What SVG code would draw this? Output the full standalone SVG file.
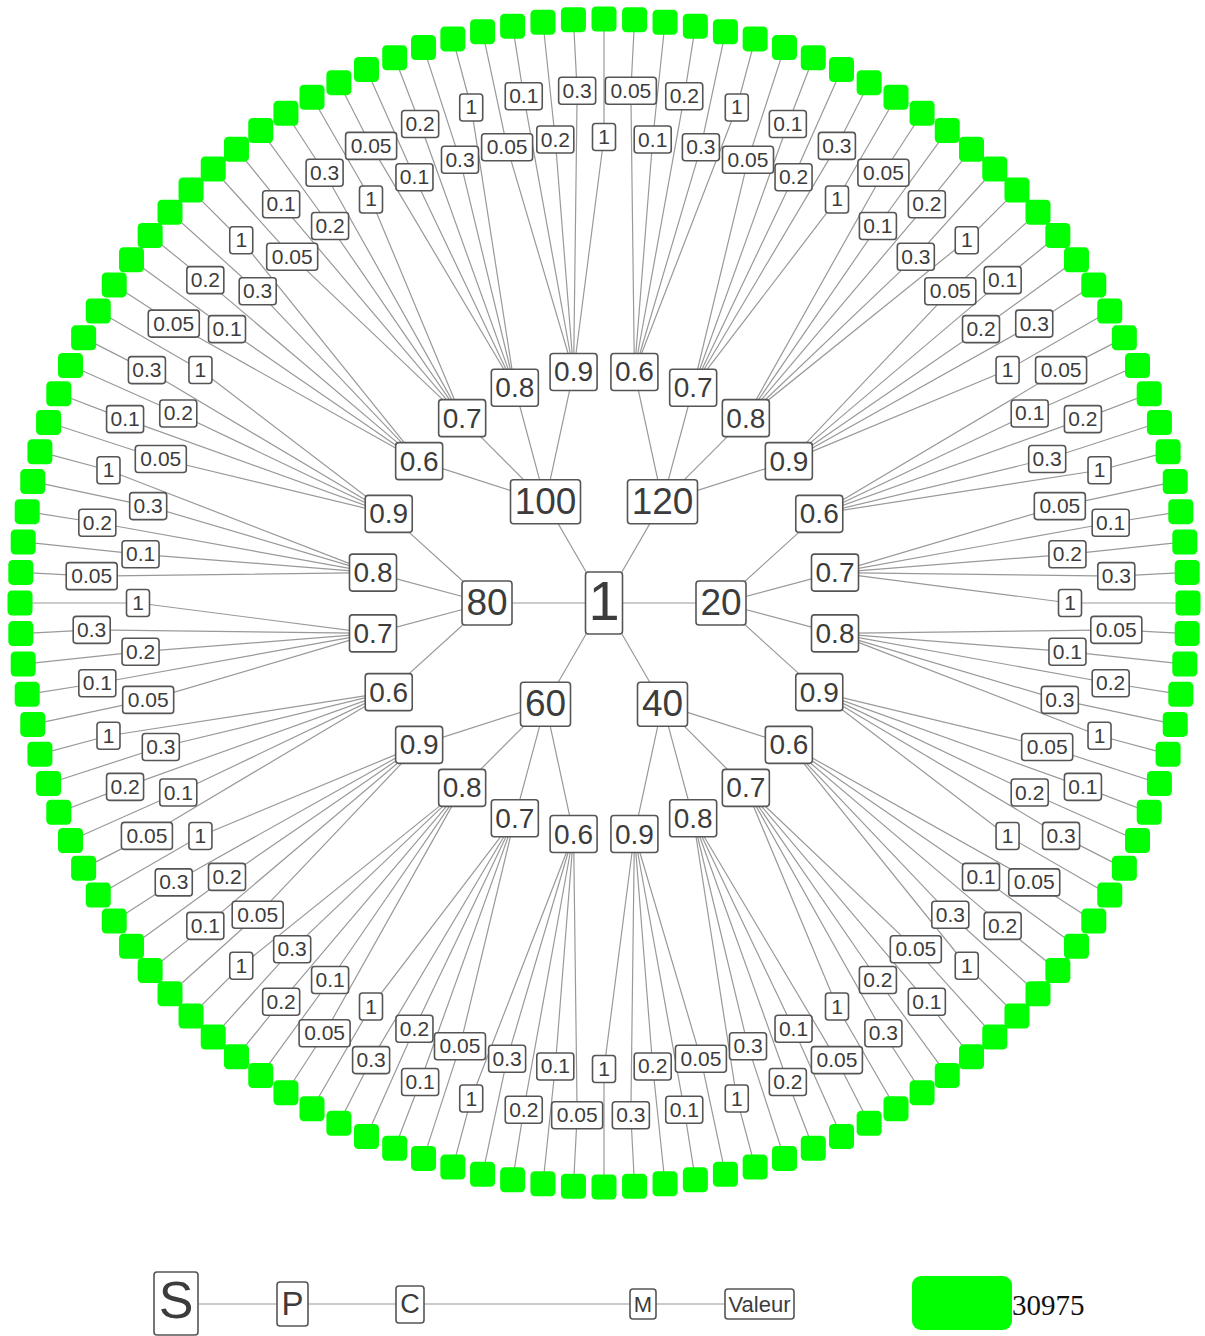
<svg xmlns="http://www.w3.org/2000/svg" width="1205" height="1336" viewBox="0 0 1205 1336">
<style>
.ln path,.ln use,.ln line{stroke:#999;stroke-width:1.2;fill:none}
.nd rect{fill:#fff;stroke:#555;stroke-width:1.6;rx:3px}
.nd text{font-family:"Liberation Sans",Arial,sans-serif;fill:#3c3c3c;text-anchor:middle}
.c0 text{font-size:56px}
.c1 text{font-size:37px}
.c2 text{font-size:28px}
.c3 text{font-size:21px}
.sq{fill:#00ff00;rx:4.5px}
.num{font-family:"Liberation Serif","Times New Roman",serif;font-size:29px;fill:#111;text-anchor:start}
</style>
<defs>
<path id="br" d="M117 0L215.26 -89.17M117 0L231.01 -30.41M117 0L231.01 30.41M117 0L215.26 89.17"/>
<path id="fa" d="M233 0L511.42 -40.25L582.2 -45.82M233 0L465.84 -12.2L583.8 -15.29M233 0L512.82 13.43L583.8 15.29M233 0L464.56 36.56L582.2 45.82M233 0L508.61 66.96L579 76.23"/>
<path id="fb" d="M233 0L464.56 -36.56L582.2 -45.82M233 0L512.82 -13.43L583.8 -15.29M233 0L465.84 12.2L583.8 15.29M233 0L511.42 40.25L582.2 45.82M233 0L462.01 60.83L579 76.23"/>
</defs>
<rect width="1205" height="1336" fill="#fff"/>
<g id="connectors" class="ln">
<line x1="604" y1="603" x2="721" y2="603"/>
<line x1="604" y1="603" x2="662.5" y2="704.3"/>
<line x1="604" y1="603" x2="545.5" y2="704.3"/>
<line x1="604" y1="603" x2="487" y2="603"/>
<line x1="604" y1="603" x2="545.5" y2="501.7"/>
<line x1="604" y1="603" x2="662.5" y2="501.7"/>
<use href="#br" transform="rotate(0 604 603) translate(604 603)"/>
<use href="#br" transform="rotate(60 604 603) translate(604 603)"/>
<use href="#br" transform="rotate(120 604 603) translate(604 603)"/>
<use href="#br" transform="rotate(180 604 603) translate(604 603)"/>
<use href="#br" transform="rotate(240 604 603) translate(604 603)"/>
<use href="#br" transform="rotate(300 604 603) translate(604 603)"/>
<use href="#fa" transform="rotate(337.5 604 603) translate(604 603)"/>
<use href="#fb" transform="rotate(352.5 604 603) translate(604 603)"/>
<use href="#fa" transform="rotate(7.5 604 603) translate(604 603)"/>
<use href="#fb" transform="rotate(22.5 604 603) translate(604 603)"/>
<use href="#fa" transform="rotate(37.5 604 603) translate(604 603)"/>
<use href="#fb" transform="rotate(52.5 604 603) translate(604 603)"/>
<use href="#fa" transform="rotate(67.5 604 603) translate(604 603)"/>
<use href="#fb" transform="rotate(82.5 604 603) translate(604 603)"/>
<use href="#fa" transform="rotate(97.5 604 603) translate(604 603)"/>
<use href="#fb" transform="rotate(112.5 604 603) translate(604 603)"/>
<use href="#fa" transform="rotate(127.5 604 603) translate(604 603)"/>
<use href="#fb" transform="rotate(142.5 604 603) translate(604 603)"/>
<use href="#fa" transform="rotate(157.5 604 603) translate(604 603)"/>
<use href="#fb" transform="rotate(172.5 604 603) translate(604 603)"/>
<use href="#fa" transform="rotate(187.5 604 603) translate(604 603)"/>
<use href="#fb" transform="rotate(202.5 604 603) translate(604 603)"/>
<use href="#fa" transform="rotate(217.5 604 603) translate(604 603)"/>
<use href="#fb" transform="rotate(232.5 604 603) translate(604 603)"/>
<use href="#fa" transform="rotate(247.5 604 603) translate(604 603)"/>
<use href="#fb" transform="rotate(262.5 604 603) translate(604 603)"/>
<use href="#fa" transform="rotate(277.5 604 603) translate(604 603)"/>
<use href="#fb" transform="rotate(292.5 604 603) translate(604 603)"/>
<use href="#fa" transform="rotate(307.5 604 603) translate(604 603)"/>
<use href="#fb" transform="rotate(322.5 604 603) translate(604 603)"/>
<line x1="176" y1="1304" x2="760" y2="1304"/>
</g>
<g id="squares">
<g id="q0" transform="rotate(0 604 603) translate(1188 603) rotate(-0)"><rect class="sq" x="-12.5" y="-12.5" width="25" height="25"/></g>
<g id="q1" transform="rotate(3 604 603) translate(1188 603) rotate(-3)"><rect class="sq" x="-12.5" y="-12.5" width="25" height="25"/></g>
<g id="q2" transform="rotate(6 604 603) translate(1188 603) rotate(-6)"><rect class="sq" x="-12.5" y="-12.5" width="25" height="25"/></g>
<g id="q3" transform="rotate(9 604 603) translate(1188 603) rotate(-9)"><rect class="sq" x="-12.5" y="-12.5" width="25" height="25"/></g>
<g id="q4" transform="rotate(12 604 603) translate(1188 603) rotate(-12)"><rect class="sq" x="-12.5" y="-12.5" width="25" height="25"/></g>
<g id="q5" transform="rotate(15 604 603) translate(1188 603) rotate(-15)"><rect class="sq" x="-12.5" y="-12.5" width="25" height="25"/></g>
<g id="q6" transform="rotate(18 604 603) translate(1188 603) rotate(-18)"><rect class="sq" x="-12.5" y="-12.5" width="25" height="25"/></g>
<g id="q7" transform="rotate(21 604 603) translate(1188 603) rotate(-21)"><rect class="sq" x="-12.5" y="-12.5" width="25" height="25"/></g>
<g id="q8" transform="rotate(24 604 603) translate(1188 603) rotate(-24)"><rect class="sq" x="-12.5" y="-12.5" width="25" height="25"/></g>
<g id="q9" transform="rotate(27 604 603) translate(1188 603) rotate(-27)"><rect class="sq" x="-12.5" y="-12.5" width="25" height="25"/></g>
<g id="q10" transform="rotate(30 604 603) translate(1188 603) rotate(-30)"><rect class="sq" x="-12.5" y="-12.5" width="25" height="25"/></g>
<g id="q11" transform="rotate(33 604 603) translate(1188 603) rotate(-33)"><rect class="sq" x="-12.5" y="-12.5" width="25" height="25"/></g>
<g id="q12" transform="rotate(36 604 603) translate(1188 603) rotate(-36)"><rect class="sq" x="-12.5" y="-12.5" width="25" height="25"/></g>
<g id="q13" transform="rotate(39 604 603) translate(1188 603) rotate(-39)"><rect class="sq" x="-12.5" y="-12.5" width="25" height="25"/></g>
<g id="q14" transform="rotate(42 604 603) translate(1188 603) rotate(-42)"><rect class="sq" x="-12.5" y="-12.5" width="25" height="25"/></g>
<g id="q15" transform="rotate(45 604 603) translate(1188 603) rotate(-45)"><rect class="sq" x="-12.5" y="-12.5" width="25" height="25"/></g>
<g id="q16" transform="rotate(48 604 603) translate(1188 603) rotate(-48)"><rect class="sq" x="-12.5" y="-12.5" width="25" height="25"/></g>
<g id="q17" transform="rotate(51 604 603) translate(1188 603) rotate(-51)"><rect class="sq" x="-12.5" y="-12.5" width="25" height="25"/></g>
<g id="q18" transform="rotate(54 604 603) translate(1188 603) rotate(-54)"><rect class="sq" x="-12.5" y="-12.5" width="25" height="25"/></g>
<g id="q19" transform="rotate(57 604 603) translate(1188 603) rotate(-57)"><rect class="sq" x="-12.5" y="-12.5" width="25" height="25"/></g>
<g id="q20" transform="rotate(60 604 603) translate(1188 603) rotate(-60)"><rect class="sq" x="-12.5" y="-12.5" width="25" height="25"/></g>
<g id="q21" transform="rotate(63 604 603) translate(1188 603) rotate(-63)"><rect class="sq" x="-12.5" y="-12.5" width="25" height="25"/></g>
<g id="q22" transform="rotate(66 604 603) translate(1188 603) rotate(-66)"><rect class="sq" x="-12.5" y="-12.5" width="25" height="25"/></g>
<g id="q23" transform="rotate(69 604 603) translate(1188 603) rotate(-69)"><rect class="sq" x="-12.5" y="-12.5" width="25" height="25"/></g>
<g id="q24" transform="rotate(72 604 603) translate(1188 603) rotate(-72)"><rect class="sq" x="-12.5" y="-12.5" width="25" height="25"/></g>
<g id="q25" transform="rotate(75 604 603) translate(1188 603) rotate(-75)"><rect class="sq" x="-12.5" y="-12.5" width="25" height="25"/></g>
<g id="q26" transform="rotate(78 604 603) translate(1188 603) rotate(-78)"><rect class="sq" x="-12.5" y="-12.5" width="25" height="25"/></g>
<g id="q27" transform="rotate(81 604 603) translate(1188 603) rotate(-81)"><rect class="sq" x="-12.5" y="-12.5" width="25" height="25"/></g>
<g id="q28" transform="rotate(84 604 603) translate(1188 603) rotate(-84)"><rect class="sq" x="-12.5" y="-12.5" width="25" height="25"/></g>
<g id="q29" transform="rotate(87 604 603) translate(1188 603) rotate(-87)"><rect class="sq" x="-12.5" y="-12.5" width="25" height="25"/></g>
<g id="q30" transform="rotate(90 604 603) translate(1188 603) rotate(-90)"><rect class="sq" x="-12.5" y="-12.5" width="25" height="25"/></g>
<g id="q31" transform="rotate(93 604 603) translate(1188 603) rotate(-93)"><rect class="sq" x="-12.5" y="-12.5" width="25" height="25"/></g>
<g id="q32" transform="rotate(96 604 603) translate(1188 603) rotate(-96)"><rect class="sq" x="-12.5" y="-12.5" width="25" height="25"/></g>
<g id="q33" transform="rotate(99 604 603) translate(1188 603) rotate(-99)"><rect class="sq" x="-12.5" y="-12.5" width="25" height="25"/></g>
<g id="q34" transform="rotate(102 604 603) translate(1188 603) rotate(-102)"><rect class="sq" x="-12.5" y="-12.5" width="25" height="25"/></g>
<g id="q35" transform="rotate(105 604 603) translate(1188 603) rotate(-105)"><rect class="sq" x="-12.5" y="-12.5" width="25" height="25"/></g>
<g id="q36" transform="rotate(108 604 603) translate(1188 603) rotate(-108)"><rect class="sq" x="-12.5" y="-12.5" width="25" height="25"/></g>
<g id="q37" transform="rotate(111 604 603) translate(1188 603) rotate(-111)"><rect class="sq" x="-12.5" y="-12.5" width="25" height="25"/></g>
<g id="q38" transform="rotate(114 604 603) translate(1188 603) rotate(-114)"><rect class="sq" x="-12.5" y="-12.5" width="25" height="25"/></g>
<g id="q39" transform="rotate(117 604 603) translate(1188 603) rotate(-117)"><rect class="sq" x="-12.5" y="-12.5" width="25" height="25"/></g>
<g id="q40" transform="rotate(120 604 603) translate(1188 603) rotate(-120)"><rect class="sq" x="-12.5" y="-12.5" width="25" height="25"/></g>
<g id="q41" transform="rotate(123 604 603) translate(1188 603) rotate(-123)"><rect class="sq" x="-12.5" y="-12.5" width="25" height="25"/></g>
<g id="q42" transform="rotate(126 604 603) translate(1188 603) rotate(-126)"><rect class="sq" x="-12.5" y="-12.5" width="25" height="25"/></g>
<g id="q43" transform="rotate(129 604 603) translate(1188 603) rotate(-129)"><rect class="sq" x="-12.5" y="-12.5" width="25" height="25"/></g>
<g id="q44" transform="rotate(132 604 603) translate(1188 603) rotate(-132)"><rect class="sq" x="-12.5" y="-12.5" width="25" height="25"/></g>
<g id="q45" transform="rotate(135 604 603) translate(1188 603) rotate(-135)"><rect class="sq" x="-12.5" y="-12.5" width="25" height="25"/></g>
<g id="q46" transform="rotate(138 604 603) translate(1188 603) rotate(-138)"><rect class="sq" x="-12.5" y="-12.5" width="25" height="25"/></g>
<g id="q47" transform="rotate(141 604 603) translate(1188 603) rotate(-141)"><rect class="sq" x="-12.5" y="-12.5" width="25" height="25"/></g>
<g id="q48" transform="rotate(144 604 603) translate(1188 603) rotate(-144)"><rect class="sq" x="-12.5" y="-12.5" width="25" height="25"/></g>
<g id="q49" transform="rotate(147 604 603) translate(1188 603) rotate(-147)"><rect class="sq" x="-12.5" y="-12.5" width="25" height="25"/></g>
<g id="q50" transform="rotate(150 604 603) translate(1188 603) rotate(-150)"><rect class="sq" x="-12.5" y="-12.5" width="25" height="25"/></g>
<g id="q51" transform="rotate(153 604 603) translate(1188 603) rotate(-153)"><rect class="sq" x="-12.5" y="-12.5" width="25" height="25"/></g>
<g id="q52" transform="rotate(156 604 603) translate(1188 603) rotate(-156)"><rect class="sq" x="-12.5" y="-12.5" width="25" height="25"/></g>
<g id="q53" transform="rotate(159 604 603) translate(1188 603) rotate(-159)"><rect class="sq" x="-12.5" y="-12.5" width="25" height="25"/></g>
<g id="q54" transform="rotate(162 604 603) translate(1188 603) rotate(-162)"><rect class="sq" x="-12.5" y="-12.5" width="25" height="25"/></g>
<g id="q55" transform="rotate(165 604 603) translate(1188 603) rotate(-165)"><rect class="sq" x="-12.5" y="-12.5" width="25" height="25"/></g>
<g id="q56" transform="rotate(168 604 603) translate(1188 603) rotate(-168)"><rect class="sq" x="-12.5" y="-12.5" width="25" height="25"/></g>
<g id="q57" transform="rotate(171 604 603) translate(1188 603) rotate(-171)"><rect class="sq" x="-12.5" y="-12.5" width="25" height="25"/></g>
<g id="q58" transform="rotate(174 604 603) translate(1188 603) rotate(-174)"><rect class="sq" x="-12.5" y="-12.5" width="25" height="25"/></g>
<g id="q59" transform="rotate(177 604 603) translate(1188 603) rotate(-177)"><rect class="sq" x="-12.5" y="-12.5" width="25" height="25"/></g>
<g id="q60" transform="rotate(180 604 603) translate(1188 603) rotate(-180)"><rect class="sq" x="-12.5" y="-12.5" width="25" height="25"/></g>
<g id="q61" transform="rotate(183 604 603) translate(1188 603) rotate(-183)"><rect class="sq" x="-12.5" y="-12.5" width="25" height="25"/></g>
<g id="q62" transform="rotate(186 604 603) translate(1188 603) rotate(-186)"><rect class="sq" x="-12.5" y="-12.5" width="25" height="25"/></g>
<g id="q63" transform="rotate(189 604 603) translate(1188 603) rotate(-189)"><rect class="sq" x="-12.5" y="-12.5" width="25" height="25"/></g>
<g id="q64" transform="rotate(192 604 603) translate(1188 603) rotate(-192)"><rect class="sq" x="-12.5" y="-12.5" width="25" height="25"/></g>
<g id="q65" transform="rotate(195 604 603) translate(1188 603) rotate(-195)"><rect class="sq" x="-12.5" y="-12.5" width="25" height="25"/></g>
<g id="q66" transform="rotate(198 604 603) translate(1188 603) rotate(-198)"><rect class="sq" x="-12.5" y="-12.5" width="25" height="25"/></g>
<g id="q67" transform="rotate(201 604 603) translate(1188 603) rotate(-201)"><rect class="sq" x="-12.5" y="-12.5" width="25" height="25"/></g>
<g id="q68" transform="rotate(204 604 603) translate(1188 603) rotate(-204)"><rect class="sq" x="-12.5" y="-12.5" width="25" height="25"/></g>
<g id="q69" transform="rotate(207 604 603) translate(1188 603) rotate(-207)"><rect class="sq" x="-12.5" y="-12.5" width="25" height="25"/></g>
<g id="q70" transform="rotate(210 604 603) translate(1188 603) rotate(-210)"><rect class="sq" x="-12.5" y="-12.5" width="25" height="25"/></g>
<g id="q71" transform="rotate(213 604 603) translate(1188 603) rotate(-213)"><rect class="sq" x="-12.5" y="-12.5" width="25" height="25"/></g>
<g id="q72" transform="rotate(216 604 603) translate(1188 603) rotate(-216)"><rect class="sq" x="-12.5" y="-12.5" width="25" height="25"/></g>
<g id="q73" transform="rotate(219 604 603) translate(1188 603) rotate(-219)"><rect class="sq" x="-12.5" y="-12.5" width="25" height="25"/></g>
<g id="q74" transform="rotate(222 604 603) translate(1188 603) rotate(-222)"><rect class="sq" x="-12.5" y="-12.5" width="25" height="25"/></g>
<g id="q75" transform="rotate(225 604 603) translate(1188 603) rotate(-225)"><rect class="sq" x="-12.5" y="-12.5" width="25" height="25"/></g>
<g id="q76" transform="rotate(228 604 603) translate(1188 603) rotate(-228)"><rect class="sq" x="-12.5" y="-12.5" width="25" height="25"/></g>
<g id="q77" transform="rotate(231 604 603) translate(1188 603) rotate(-231)"><rect class="sq" x="-12.5" y="-12.5" width="25" height="25"/></g>
<g id="q78" transform="rotate(234 604 603) translate(1188 603) rotate(-234)"><rect class="sq" x="-12.5" y="-12.5" width="25" height="25"/></g>
<g id="q79" transform="rotate(237 604 603) translate(1188 603) rotate(-237)"><rect class="sq" x="-12.5" y="-12.5" width="25" height="25"/></g>
<g id="q80" transform="rotate(240 604 603) translate(1188 603) rotate(-240)"><rect class="sq" x="-12.5" y="-12.5" width="25" height="25"/></g>
<g id="q81" transform="rotate(243 604 603) translate(1188 603) rotate(-243)"><rect class="sq" x="-12.5" y="-12.5" width="25" height="25"/></g>
<g id="q82" transform="rotate(246 604 603) translate(1188 603) rotate(-246)"><rect class="sq" x="-12.5" y="-12.5" width="25" height="25"/></g>
<g id="q83" transform="rotate(249 604 603) translate(1188 603) rotate(-249)"><rect class="sq" x="-12.5" y="-12.5" width="25" height="25"/></g>
<g id="q84" transform="rotate(252 604 603) translate(1188 603) rotate(-252)"><rect class="sq" x="-12.5" y="-12.5" width="25" height="25"/></g>
<g id="q85" transform="rotate(255 604 603) translate(1188 603) rotate(-255)"><rect class="sq" x="-12.5" y="-12.5" width="25" height="25"/></g>
<g id="q86" transform="rotate(258 604 603) translate(1188 603) rotate(-258)"><rect class="sq" x="-12.5" y="-12.5" width="25" height="25"/></g>
<g id="q87" transform="rotate(261 604 603) translate(1188 603) rotate(-261)"><rect class="sq" x="-12.5" y="-12.5" width="25" height="25"/></g>
<g id="q88" transform="rotate(264 604 603) translate(1188 603) rotate(-264)"><rect class="sq" x="-12.5" y="-12.5" width="25" height="25"/></g>
<g id="q89" transform="rotate(267 604 603) translate(1188 603) rotate(-267)"><rect class="sq" x="-12.5" y="-12.5" width="25" height="25"/></g>
<g id="q90" transform="rotate(270 604 603) translate(1188 603) rotate(-270)"><rect class="sq" x="-12.5" y="-12.5" width="25" height="25"/></g>
<g id="q91" transform="rotate(273 604 603) translate(1188 603) rotate(-273)"><rect class="sq" x="-12.5" y="-12.5" width="25" height="25"/></g>
<g id="q92" transform="rotate(276 604 603) translate(1188 603) rotate(-276)"><rect class="sq" x="-12.5" y="-12.5" width="25" height="25"/></g>
<g id="q93" transform="rotate(279 604 603) translate(1188 603) rotate(-279)"><rect class="sq" x="-12.5" y="-12.5" width="25" height="25"/></g>
<g id="q94" transform="rotate(282 604 603) translate(1188 603) rotate(-282)"><rect class="sq" x="-12.5" y="-12.5" width="25" height="25"/></g>
<g id="q95" transform="rotate(285 604 603) translate(1188 603) rotate(-285)"><rect class="sq" x="-12.5" y="-12.5" width="25" height="25"/></g>
<g id="q96" transform="rotate(288 604 603) translate(1188 603) rotate(-288)"><rect class="sq" x="-12.5" y="-12.5" width="25" height="25"/></g>
<g id="q97" transform="rotate(291 604 603) translate(1188 603) rotate(-291)"><rect class="sq" x="-12.5" y="-12.5" width="25" height="25"/></g>
<g id="q98" transform="rotate(294 604 603) translate(1188 603) rotate(-294)"><rect class="sq" x="-12.5" y="-12.5" width="25" height="25"/></g>
<g id="q99" transform="rotate(297 604 603) translate(1188 603) rotate(-297)"><rect class="sq" x="-12.5" y="-12.5" width="25" height="25"/></g>
<g id="q100" transform="rotate(300 604 603) translate(1188 603) rotate(-300)"><rect class="sq" x="-12.5" y="-12.5" width="25" height="25"/></g>
<g id="q101" transform="rotate(303 604 603) translate(1188 603) rotate(-303)"><rect class="sq" x="-12.5" y="-12.5" width="25" height="25"/></g>
<g id="q102" transform="rotate(306 604 603) translate(1188 603) rotate(-306)"><rect class="sq" x="-12.5" y="-12.5" width="25" height="25"/></g>
<g id="q103" transform="rotate(309 604 603) translate(1188 603) rotate(-309)"><rect class="sq" x="-12.5" y="-12.5" width="25" height="25"/></g>
<g id="q104" transform="rotate(312 604 603) translate(1188 603) rotate(-312)"><rect class="sq" x="-12.5" y="-12.5" width="25" height="25"/></g>
<g id="q105" transform="rotate(315 604 603) translate(1188 603) rotate(-315)"><rect class="sq" x="-12.5" y="-12.5" width="25" height="25"/></g>
<g id="q106" transform="rotate(318 604 603) translate(1188 603) rotate(-318)"><rect class="sq" x="-12.5" y="-12.5" width="25" height="25"/></g>
<g id="q107" transform="rotate(321 604 603) translate(1188 603) rotate(-321)"><rect class="sq" x="-12.5" y="-12.5" width="25" height="25"/></g>
<g id="q108" transform="rotate(324 604 603) translate(1188 603) rotate(-324)"><rect class="sq" x="-12.5" y="-12.5" width="25" height="25"/></g>
<g id="q109" transform="rotate(327 604 603) translate(1188 603) rotate(-327)"><rect class="sq" x="-12.5" y="-12.5" width="25" height="25"/></g>
<g id="q110" transform="rotate(330 604 603) translate(1188 603) rotate(-330)"><rect class="sq" x="-12.5" y="-12.5" width="25" height="25"/></g>
<g id="q111" transform="rotate(333 604 603) translate(1188 603) rotate(-333)"><rect class="sq" x="-12.5" y="-12.5" width="25" height="25"/></g>
<g id="q112" transform="rotate(336 604 603) translate(1188 603) rotate(-336)"><rect class="sq" x="-12.5" y="-12.5" width="25" height="25"/></g>
<g id="q113" transform="rotate(339 604 603) translate(1188 603) rotate(-339)"><rect class="sq" x="-12.5" y="-12.5" width="25" height="25"/></g>
<g id="q114" transform="rotate(342 604 603) translate(1188 603) rotate(-342)"><rect class="sq" x="-12.5" y="-12.5" width="25" height="25"/></g>
<g id="q115" transform="rotate(345 604 603) translate(1188 603) rotate(-345)"><rect class="sq" x="-12.5" y="-12.5" width="25" height="25"/></g>
<g id="q116" transform="rotate(348 604 603) translate(1188 603) rotate(-348)"><rect class="sq" x="-12.5" y="-12.5" width="25" height="25"/></g>
<g id="q117" transform="rotate(351 604 603) translate(1188 603) rotate(-351)"><rect class="sq" x="-12.5" y="-12.5" width="25" height="25"/></g>
<g id="q118" transform="rotate(354 604 603) translate(1188 603) rotate(-354)"><rect class="sq" x="-12.5" y="-12.5" width="25" height="25"/></g>
<g id="q119" transform="rotate(357 604 603) translate(1188 603) rotate(-357)"><rect class="sq" x="-12.5" y="-12.5" width="25" height="25"/></g>
</g>
<g class="nd c3">
<g id="v0" transform="rotate(0 604 603) translate(1070 603) rotate(-0)"><rect x="-11.5" y="-13.5" width="23" height="27"/><text y="7">1</text></g>
<g id="v1" transform="rotate(3 604 603) translate(1117 603) rotate(-3)"><rect x="-25.5" y="-13.5" width="51" height="27"/><text y="7">0.05</text></g>
<g id="v2" transform="rotate(6 604 603) translate(1070 603) rotate(-6)"><rect x="-18.5" y="-13.5" width="37" height="27"/><text y="7">0.1</text></g>
<g id="v3" transform="rotate(9 604 603) translate(1117 603) rotate(-9)"><rect x="-18.5" y="-13.5" width="37" height="27"/><text y="7">0.2</text></g>
<g id="v4" transform="rotate(12 604 603) translate(1070 603) rotate(-12)"><rect x="-18.5" y="-13.5" width="37" height="27"/><text y="7">0.3</text></g>
<g id="v5" transform="rotate(15 604 603) translate(1117 603) rotate(-15)"><rect x="-11.5" y="-13.5" width="23" height="27"/><text y="7">1</text></g>
<g id="v6" transform="rotate(18 604 603) translate(1070 603) rotate(-18)"><rect x="-25.5" y="-13.5" width="51" height="27"/><text y="7">0.05</text></g>
<g id="v7" transform="rotate(21 604 603) translate(1117 603) rotate(-21)"><rect x="-18.5" y="-13.5" width="37" height="27"/><text y="7">0.1</text></g>
<g id="v8" transform="rotate(24 604 603) translate(1070 603) rotate(-24)"><rect x="-18.5" y="-13.5" width="37" height="27"/><text y="7">0.2</text></g>
<g id="v9" transform="rotate(27 604 603) translate(1117 603) rotate(-27)"><rect x="-18.5" y="-13.5" width="37" height="27"/><text y="7">0.3</text></g>
<g id="v10" transform="rotate(30 604 603) translate(1070 603) rotate(-30)"><rect x="-11.5" y="-13.5" width="23" height="27"/><text y="7">1</text></g>
<g id="v11" transform="rotate(33 604 603) translate(1117 603) rotate(-33)"><rect x="-25.5" y="-13.5" width="51" height="27"/><text y="7">0.05</text></g>
<g id="v12" transform="rotate(36 604 603) translate(1070 603) rotate(-36)"><rect x="-18.5" y="-13.5" width="37" height="27"/><text y="7">0.1</text></g>
<g id="v13" transform="rotate(39 604 603) translate(1117 603) rotate(-39)"><rect x="-18.5" y="-13.5" width="37" height="27"/><text y="7">0.2</text></g>
<g id="v14" transform="rotate(42 604 603) translate(1070 603) rotate(-42)"><rect x="-18.5" y="-13.5" width="37" height="27"/><text y="7">0.3</text></g>
<g id="v15" transform="rotate(45 604 603) translate(1117 603) rotate(-45)"><rect x="-11.5" y="-13.5" width="23" height="27"/><text y="7">1</text></g>
<g id="v16" transform="rotate(48 604 603) translate(1070 603) rotate(-48)"><rect x="-25.5" y="-13.5" width="51" height="27"/><text y="7">0.05</text></g>
<g id="v17" transform="rotate(51 604 603) translate(1117 603) rotate(-51)"><rect x="-18.5" y="-13.5" width="37" height="27"/><text y="7">0.1</text></g>
<g id="v18" transform="rotate(54 604 603) translate(1070 603) rotate(-54)"><rect x="-18.5" y="-13.5" width="37" height="27"/><text y="7">0.2</text></g>
<g id="v19" transform="rotate(57 604 603) translate(1117 603) rotate(-57)"><rect x="-18.5" y="-13.5" width="37" height="27"/><text y="7">0.3</text></g>
<g id="v20" transform="rotate(60 604 603) translate(1070 603) rotate(-60)"><rect x="-11.5" y="-13.5" width="23" height="27"/><text y="7">1</text></g>
<g id="v21" transform="rotate(63 604 603) translate(1117 603) rotate(-63)"><rect x="-25.5" y="-13.5" width="51" height="27"/><text y="7">0.05</text></g>
<g id="v22" transform="rotate(66 604 603) translate(1070 603) rotate(-66)"><rect x="-18.5" y="-13.5" width="37" height="27"/><text y="7">0.1</text></g>
<g id="v23" transform="rotate(69 604 603) translate(1117 603) rotate(-69)"><rect x="-18.5" y="-13.5" width="37" height="27"/><text y="7">0.2</text></g>
<g id="v24" transform="rotate(72 604 603) translate(1070 603) rotate(-72)"><rect x="-18.5" y="-13.5" width="37" height="27"/><text y="7">0.3</text></g>
<g id="v25" transform="rotate(75 604 603) translate(1117 603) rotate(-75)"><rect x="-11.5" y="-13.5" width="23" height="27"/><text y="7">1</text></g>
<g id="v26" transform="rotate(78 604 603) translate(1070 603) rotate(-78)"><rect x="-25.5" y="-13.5" width="51" height="27"/><text y="7">0.05</text></g>
<g id="v27" transform="rotate(81 604 603) translate(1117 603) rotate(-81)"><rect x="-18.5" y="-13.5" width="37" height="27"/><text y="7">0.1</text></g>
<g id="v28" transform="rotate(84 604 603) translate(1070 603) rotate(-84)"><rect x="-18.5" y="-13.5" width="37" height="27"/><text y="7">0.2</text></g>
<g id="v29" transform="rotate(87 604 603) translate(1117 603) rotate(-87)"><rect x="-18.5" y="-13.5" width="37" height="27"/><text y="7">0.3</text></g>
<g id="v30" transform="rotate(90 604 603) translate(1070 603) rotate(-90)"><rect x="-11.5" y="-13.5" width="23" height="27"/><text y="7">1</text></g>
<g id="v31" transform="rotate(93 604 603) translate(1117 603) rotate(-93)"><rect x="-25.5" y="-13.5" width="51" height="27"/><text y="7">0.05</text></g>
<g id="v32" transform="rotate(96 604 603) translate(1070 603) rotate(-96)"><rect x="-18.5" y="-13.5" width="37" height="27"/><text y="7">0.1</text></g>
<g id="v33" transform="rotate(99 604 603) translate(1117 603) rotate(-99)"><rect x="-18.5" y="-13.5" width="37" height="27"/><text y="7">0.2</text></g>
<g id="v34" transform="rotate(102 604 603) translate(1070 603) rotate(-102)"><rect x="-18.5" y="-13.5" width="37" height="27"/><text y="7">0.3</text></g>
<g id="v35" transform="rotate(105 604 603) translate(1117 603) rotate(-105)"><rect x="-11.5" y="-13.5" width="23" height="27"/><text y="7">1</text></g>
<g id="v36" transform="rotate(108 604 603) translate(1070 603) rotate(-108)"><rect x="-25.5" y="-13.5" width="51" height="27"/><text y="7">0.05</text></g>
<g id="v37" transform="rotate(111 604 603) translate(1117 603) rotate(-111)"><rect x="-18.5" y="-13.5" width="37" height="27"/><text y="7">0.1</text></g>
<g id="v38" transform="rotate(114 604 603) translate(1070 603) rotate(-114)"><rect x="-18.5" y="-13.5" width="37" height="27"/><text y="7">0.2</text></g>
<g id="v39" transform="rotate(117 604 603) translate(1117 603) rotate(-117)"><rect x="-18.5" y="-13.5" width="37" height="27"/><text y="7">0.3</text></g>
<g id="v40" transform="rotate(120 604 603) translate(1070 603) rotate(-120)"><rect x="-11.5" y="-13.5" width="23" height="27"/><text y="7">1</text></g>
<g id="v41" transform="rotate(123 604 603) translate(1117 603) rotate(-123)"><rect x="-25.5" y="-13.5" width="51" height="27"/><text y="7">0.05</text></g>
<g id="v42" transform="rotate(126 604 603) translate(1070 603) rotate(-126)"><rect x="-18.5" y="-13.5" width="37" height="27"/><text y="7">0.1</text></g>
<g id="v43" transform="rotate(129 604 603) translate(1117 603) rotate(-129)"><rect x="-18.5" y="-13.5" width="37" height="27"/><text y="7">0.2</text></g>
<g id="v44" transform="rotate(132 604 603) translate(1070 603) rotate(-132)"><rect x="-18.5" y="-13.5" width="37" height="27"/><text y="7">0.3</text></g>
<g id="v45" transform="rotate(135 604 603) translate(1117 603) rotate(-135)"><rect x="-11.5" y="-13.5" width="23" height="27"/><text y="7">1</text></g>
<g id="v46" transform="rotate(138 604 603) translate(1070 603) rotate(-138)"><rect x="-25.5" y="-13.5" width="51" height="27"/><text y="7">0.05</text></g>
<g id="v47" transform="rotate(141 604 603) translate(1117 603) rotate(-141)"><rect x="-18.5" y="-13.5" width="37" height="27"/><text y="7">0.1</text></g>
<g id="v48" transform="rotate(144 604 603) translate(1070 603) rotate(-144)"><rect x="-18.5" y="-13.5" width="37" height="27"/><text y="7">0.2</text></g>
<g id="v49" transform="rotate(147 604 603) translate(1117 603) rotate(-147)"><rect x="-18.5" y="-13.5" width="37" height="27"/><text y="7">0.3</text></g>
<g id="v50" transform="rotate(150 604 603) translate(1070 603) rotate(-150)"><rect x="-11.5" y="-13.5" width="23" height="27"/><text y="7">1</text></g>
<g id="v51" transform="rotate(153 604 603) translate(1117 603) rotate(-153)"><rect x="-25.5" y="-13.5" width="51" height="27"/><text y="7">0.05</text></g>
<g id="v52" transform="rotate(156 604 603) translate(1070 603) rotate(-156)"><rect x="-18.5" y="-13.5" width="37" height="27"/><text y="7">0.1</text></g>
<g id="v53" transform="rotate(159 604 603) translate(1117 603) rotate(-159)"><rect x="-18.5" y="-13.5" width="37" height="27"/><text y="7">0.2</text></g>
<g id="v54" transform="rotate(162 604 603) translate(1070 603) rotate(-162)"><rect x="-18.5" y="-13.5" width="37" height="27"/><text y="7">0.3</text></g>
<g id="v55" transform="rotate(165 604 603) translate(1117 603) rotate(-165)"><rect x="-11.5" y="-13.5" width="23" height="27"/><text y="7">1</text></g>
<g id="v56" transform="rotate(168 604 603) translate(1070 603) rotate(-168)"><rect x="-25.5" y="-13.5" width="51" height="27"/><text y="7">0.05</text></g>
<g id="v57" transform="rotate(171 604 603) translate(1117 603) rotate(-171)"><rect x="-18.5" y="-13.5" width="37" height="27"/><text y="7">0.1</text></g>
<g id="v58" transform="rotate(174 604 603) translate(1070 603) rotate(-174)"><rect x="-18.5" y="-13.5" width="37" height="27"/><text y="7">0.2</text></g>
<g id="v59" transform="rotate(177 604 603) translate(1117 603) rotate(-177)"><rect x="-18.5" y="-13.5" width="37" height="27"/><text y="7">0.3</text></g>
<g id="v60" transform="rotate(180 604 603) translate(1070 603) rotate(-180)"><rect x="-11.5" y="-13.5" width="23" height="27"/><text y="7">1</text></g>
<g id="v61" transform="rotate(183 604 603) translate(1117 603) rotate(-183)"><rect x="-25.5" y="-13.5" width="51" height="27"/><text y="7">0.05</text></g>
<g id="v62" transform="rotate(186 604 603) translate(1070 603) rotate(-186)"><rect x="-18.5" y="-13.5" width="37" height="27"/><text y="7">0.1</text></g>
<g id="v63" transform="rotate(189 604 603) translate(1117 603) rotate(-189)"><rect x="-18.5" y="-13.5" width="37" height="27"/><text y="7">0.2</text></g>
<g id="v64" transform="rotate(192 604 603) translate(1070 603) rotate(-192)"><rect x="-18.5" y="-13.5" width="37" height="27"/><text y="7">0.3</text></g>
<g id="v65" transform="rotate(195 604 603) translate(1117 603) rotate(-195)"><rect x="-11.5" y="-13.5" width="23" height="27"/><text y="7">1</text></g>
<g id="v66" transform="rotate(198 604 603) translate(1070 603) rotate(-198)"><rect x="-25.5" y="-13.5" width="51" height="27"/><text y="7">0.05</text></g>
<g id="v67" transform="rotate(201 604 603) translate(1117 603) rotate(-201)"><rect x="-18.5" y="-13.5" width="37" height="27"/><text y="7">0.1</text></g>
<g id="v68" transform="rotate(204 604 603) translate(1070 603) rotate(-204)"><rect x="-18.5" y="-13.5" width="37" height="27"/><text y="7">0.2</text></g>
<g id="v69" transform="rotate(207 604 603) translate(1117 603) rotate(-207)"><rect x="-18.5" y="-13.5" width="37" height="27"/><text y="7">0.3</text></g>
<g id="v70" transform="rotate(210 604 603) translate(1070 603) rotate(-210)"><rect x="-11.5" y="-13.5" width="23" height="27"/><text y="7">1</text></g>
<g id="v71" transform="rotate(213 604 603) translate(1117 603) rotate(-213)"><rect x="-25.5" y="-13.5" width="51" height="27"/><text y="7">0.05</text></g>
<g id="v72" transform="rotate(216 604 603) translate(1070 603) rotate(-216)"><rect x="-18.5" y="-13.5" width="37" height="27"/><text y="7">0.1</text></g>
<g id="v73" transform="rotate(219 604 603) translate(1117 603) rotate(-219)"><rect x="-18.5" y="-13.5" width="37" height="27"/><text y="7">0.2</text></g>
<g id="v74" transform="rotate(222 604 603) translate(1070 603) rotate(-222)"><rect x="-18.5" y="-13.5" width="37" height="27"/><text y="7">0.3</text></g>
<g id="v75" transform="rotate(225 604 603) translate(1117 603) rotate(-225)"><rect x="-11.5" y="-13.5" width="23" height="27"/><text y="7">1</text></g>
<g id="v76" transform="rotate(228 604 603) translate(1070 603) rotate(-228)"><rect x="-25.5" y="-13.5" width="51" height="27"/><text y="7">0.05</text></g>
<g id="v77" transform="rotate(231 604 603) translate(1117 603) rotate(-231)"><rect x="-18.5" y="-13.5" width="37" height="27"/><text y="7">0.1</text></g>
<g id="v78" transform="rotate(234 604 603) translate(1070 603) rotate(-234)"><rect x="-18.5" y="-13.5" width="37" height="27"/><text y="7">0.2</text></g>
<g id="v79" transform="rotate(237 604 603) translate(1117 603) rotate(-237)"><rect x="-18.5" y="-13.5" width="37" height="27"/><text y="7">0.3</text></g>
<g id="v80" transform="rotate(240 604 603) translate(1070 603) rotate(-240)"><rect x="-11.5" y="-13.5" width="23" height="27"/><text y="7">1</text></g>
<g id="v81" transform="rotate(243 604 603) translate(1117 603) rotate(-243)"><rect x="-25.5" y="-13.5" width="51" height="27"/><text y="7">0.05</text></g>
<g id="v82" transform="rotate(246 604 603) translate(1070 603) rotate(-246)"><rect x="-18.5" y="-13.5" width="37" height="27"/><text y="7">0.1</text></g>
<g id="v83" transform="rotate(249 604 603) translate(1117 603) rotate(-249)"><rect x="-18.5" y="-13.5" width="37" height="27"/><text y="7">0.2</text></g>
<g id="v84" transform="rotate(252 604 603) translate(1070 603) rotate(-252)"><rect x="-18.5" y="-13.5" width="37" height="27"/><text y="7">0.3</text></g>
<g id="v85" transform="rotate(255 604 603) translate(1117 603) rotate(-255)"><rect x="-11.5" y="-13.5" width="23" height="27"/><text y="7">1</text></g>
<g id="v86" transform="rotate(258 604 603) translate(1070 603) rotate(-258)"><rect x="-25.5" y="-13.5" width="51" height="27"/><text y="7">0.05</text></g>
<g id="v87" transform="rotate(261 604 603) translate(1117 603) rotate(-261)"><rect x="-18.5" y="-13.5" width="37" height="27"/><text y="7">0.1</text></g>
<g id="v88" transform="rotate(264 604 603) translate(1070 603) rotate(-264)"><rect x="-18.5" y="-13.5" width="37" height="27"/><text y="7">0.2</text></g>
<g id="v89" transform="rotate(267 604 603) translate(1117 603) rotate(-267)"><rect x="-18.5" y="-13.5" width="37" height="27"/><text y="7">0.3</text></g>
<g id="v90" transform="rotate(270 604 603) translate(1070 603) rotate(-270)"><rect x="-11.5" y="-13.5" width="23" height="27"/><text y="7">1</text></g>
<g id="v91" transform="rotate(273 604 603) translate(1117 603) rotate(-273)"><rect x="-25.5" y="-13.5" width="51" height="27"/><text y="7">0.05</text></g>
<g id="v92" transform="rotate(276 604 603) translate(1070 603) rotate(-276)"><rect x="-18.5" y="-13.5" width="37" height="27"/><text y="7">0.1</text></g>
<g id="v93" transform="rotate(279 604 603) translate(1117 603) rotate(-279)"><rect x="-18.5" y="-13.5" width="37" height="27"/><text y="7">0.2</text></g>
<g id="v94" transform="rotate(282 604 603) translate(1070 603) rotate(-282)"><rect x="-18.5" y="-13.5" width="37" height="27"/><text y="7">0.3</text></g>
<g id="v95" transform="rotate(285 604 603) translate(1117 603) rotate(-285)"><rect x="-11.5" y="-13.5" width="23" height="27"/><text y="7">1</text></g>
<g id="v96" transform="rotate(288 604 603) translate(1070 603) rotate(-288)"><rect x="-25.5" y="-13.5" width="51" height="27"/><text y="7">0.05</text></g>
<g id="v97" transform="rotate(291 604 603) translate(1117 603) rotate(-291)"><rect x="-18.5" y="-13.5" width="37" height="27"/><text y="7">0.1</text></g>
<g id="v98" transform="rotate(294 604 603) translate(1070 603) rotate(-294)"><rect x="-18.5" y="-13.5" width="37" height="27"/><text y="7">0.2</text></g>
<g id="v99" transform="rotate(297 604 603) translate(1117 603) rotate(-297)"><rect x="-18.5" y="-13.5" width="37" height="27"/><text y="7">0.3</text></g>
<g id="v100" transform="rotate(300 604 603) translate(1070 603) rotate(-300)"><rect x="-11.5" y="-13.5" width="23" height="27"/><text y="7">1</text></g>
<g id="v101" transform="rotate(303 604 603) translate(1117 603) rotate(-303)"><rect x="-25.5" y="-13.5" width="51" height="27"/><text y="7">0.05</text></g>
<g id="v102" transform="rotate(306 604 603) translate(1070 603) rotate(-306)"><rect x="-18.5" y="-13.5" width="37" height="27"/><text y="7">0.1</text></g>
<g id="v103" transform="rotate(309 604 603) translate(1117 603) rotate(-309)"><rect x="-18.5" y="-13.5" width="37" height="27"/><text y="7">0.2</text></g>
<g id="v104" transform="rotate(312 604 603) translate(1070 603) rotate(-312)"><rect x="-18.5" y="-13.5" width="37" height="27"/><text y="7">0.3</text></g>
<g id="v105" transform="rotate(315 604 603) translate(1117 603) rotate(-315)"><rect x="-11.5" y="-13.5" width="23" height="27"/><text y="7">1</text></g>
<g id="v106" transform="rotate(318 604 603) translate(1070 603) rotate(-318)"><rect x="-25.5" y="-13.5" width="51" height="27"/><text y="7">0.05</text></g>
<g id="v107" transform="rotate(321 604 603) translate(1117 603) rotate(-321)"><rect x="-18.5" y="-13.5" width="37" height="27"/><text y="7">0.1</text></g>
<g id="v108" transform="rotate(324 604 603) translate(1070 603) rotate(-324)"><rect x="-18.5" y="-13.5" width="37" height="27"/><text y="7">0.2</text></g>
<g id="v109" transform="rotate(327 604 603) translate(1117 603) rotate(-327)"><rect x="-18.5" y="-13.5" width="37" height="27"/><text y="7">0.3</text></g>
<g id="v110" transform="rotate(330 604 603) translate(1070 603) rotate(-330)"><rect x="-11.5" y="-13.5" width="23" height="27"/><text y="7">1</text></g>
<g id="v111" transform="rotate(333 604 603) translate(1117 603) rotate(-333)"><rect x="-25.5" y="-13.5" width="51" height="27"/><text y="7">0.05</text></g>
<g id="v112" transform="rotate(336 604 603) translate(1070 603) rotate(-336)"><rect x="-18.5" y="-13.5" width="37" height="27"/><text y="7">0.1</text></g>
<g id="v113" transform="rotate(339 604 603) translate(1117 603) rotate(-339)"><rect x="-18.5" y="-13.5" width="37" height="27"/><text y="7">0.2</text></g>
<g id="v114" transform="rotate(342 604 603) translate(1070 603) rotate(-342)"><rect x="-18.5" y="-13.5" width="37" height="27"/><text y="7">0.3</text></g>
<g id="v115" transform="rotate(345 604 603) translate(1117 603) rotate(-345)"><rect x="-11.5" y="-13.5" width="23" height="27"/><text y="7">1</text></g>
<g id="v116" transform="rotate(348 604 603) translate(1070 603) rotate(-348)"><rect x="-25.5" y="-13.5" width="51" height="27"/><text y="7">0.05</text></g>
<g id="v117" transform="rotate(351 604 603) translate(1117 603) rotate(-351)"><rect x="-18.5" y="-13.5" width="37" height="27"/><text y="7">0.1</text></g>
<g id="v118" transform="rotate(354 604 603) translate(1070 603) rotate(-354)"><rect x="-18.5" y="-13.5" width="37" height="27"/><text y="7">0.2</text></g>
<g id="v119" transform="rotate(357 604 603) translate(1117 603) rotate(-357)"><rect x="-18.5" y="-13.5" width="37" height="27"/><text y="7">0.3</text></g>
</g>
<g class="nd c2">
<g id="m0" transform="rotate(337.5 604 603) translate(837 603) rotate(-337.5)"><rect x="-23.5" y="-18.5" width="47" height="37"/><text y="9.5">0.6</text></g>
<g id="m1" transform="rotate(352.5 604 603) translate(837 603) rotate(-352.5)"><rect x="-23.5" y="-18.5" width="47" height="37"/><text y="9.5">0.7</text></g>
<g id="m2" transform="rotate(7.5 604 603) translate(837 603) rotate(-7.5)"><rect x="-23.5" y="-18.5" width="47" height="37"/><text y="9.5">0.8</text></g>
<g id="m3" transform="rotate(22.5 604 603) translate(837 603) rotate(-22.5)"><rect x="-23.5" y="-18.5" width="47" height="37"/><text y="9.5">0.9</text></g>
<g id="m4" transform="rotate(37.5 604 603) translate(837 603) rotate(-37.5)"><rect x="-23.5" y="-18.5" width="47" height="37"/><text y="9.5">0.6</text></g>
<g id="m5" transform="rotate(52.5 604 603) translate(837 603) rotate(-52.5)"><rect x="-23.5" y="-18.5" width="47" height="37"/><text y="9.5">0.7</text></g>
<g id="m6" transform="rotate(67.5 604 603) translate(837 603) rotate(-67.5)"><rect x="-23.5" y="-18.5" width="47" height="37"/><text y="9.5">0.8</text></g>
<g id="m7" transform="rotate(82.5 604 603) translate(837 603) rotate(-82.5)"><rect x="-23.5" y="-18.5" width="47" height="37"/><text y="9.5">0.9</text></g>
<g id="m8" transform="rotate(97.5 604 603) translate(837 603) rotate(-97.5)"><rect x="-23.5" y="-18.5" width="47" height="37"/><text y="9.5">0.6</text></g>
<g id="m9" transform="rotate(112.5 604 603) translate(837 603) rotate(-112.5)"><rect x="-23.5" y="-18.5" width="47" height="37"/><text y="9.5">0.7</text></g>
<g id="m10" transform="rotate(127.5 604 603) translate(837 603) rotate(-127.5)"><rect x="-23.5" y="-18.5" width="47" height="37"/><text y="9.5">0.8</text></g>
<g id="m11" transform="rotate(142.5 604 603) translate(837 603) rotate(-142.5)"><rect x="-23.5" y="-18.5" width="47" height="37"/><text y="9.5">0.9</text></g>
<g id="m12" transform="rotate(157.5 604 603) translate(837 603) rotate(-157.5)"><rect x="-23.5" y="-18.5" width="47" height="37"/><text y="9.5">0.6</text></g>
<g id="m13" transform="rotate(172.5 604 603) translate(837 603) rotate(-172.5)"><rect x="-23.5" y="-18.5" width="47" height="37"/><text y="9.5">0.7</text></g>
<g id="m14" transform="rotate(187.5 604 603) translate(837 603) rotate(-187.5)"><rect x="-23.5" y="-18.5" width="47" height="37"/><text y="9.5">0.8</text></g>
<g id="m15" transform="rotate(202.5 604 603) translate(837 603) rotate(-202.5)"><rect x="-23.5" y="-18.5" width="47" height="37"/><text y="9.5">0.9</text></g>
<g id="m16" transform="rotate(217.5 604 603) translate(837 603) rotate(-217.5)"><rect x="-23.5" y="-18.5" width="47" height="37"/><text y="9.5">0.6</text></g>
<g id="m17" transform="rotate(232.5 604 603) translate(837 603) rotate(-232.5)"><rect x="-23.5" y="-18.5" width="47" height="37"/><text y="9.5">0.7</text></g>
<g id="m18" transform="rotate(247.5 604 603) translate(837 603) rotate(-247.5)"><rect x="-23.5" y="-18.5" width="47" height="37"/><text y="9.5">0.8</text></g>
<g id="m19" transform="rotate(262.5 604 603) translate(837 603) rotate(-262.5)"><rect x="-23.5" y="-18.5" width="47" height="37"/><text y="9.5">0.9</text></g>
<g id="m20" transform="rotate(277.5 604 603) translate(837 603) rotate(-277.5)"><rect x="-23.5" y="-18.5" width="47" height="37"/><text y="9.5">0.6</text></g>
<g id="m21" transform="rotate(292.5 604 603) translate(837 603) rotate(-292.5)"><rect x="-23.5" y="-18.5" width="47" height="37"/><text y="9.5">0.7</text></g>
<g id="m22" transform="rotate(307.5 604 603) translate(837 603) rotate(-307.5)"><rect x="-23.5" y="-18.5" width="47" height="37"/><text y="9.5">0.8</text></g>
<g id="m23" transform="rotate(322.5 604 603) translate(837 603) rotate(-322.5)"><rect x="-23.5" y="-18.5" width="47" height="37"/><text y="9.5">0.9</text></g>
</g>
<g class="nd c1">
<g id="p20" transform="translate(721 603)"><rect x="-25" y="-22" width="50" height="44"/><text y="12">20</text></g>
<g id="p40" transform="translate(662.5 704.3)"><rect x="-25" y="-22" width="50" height="44"/><text y="12">40</text></g>
<g id="p60" transform="translate(545.5 704.3)"><rect x="-25" y="-22" width="50" height="44"/><text y="12">60</text></g>
<g id="p80" transform="translate(487 603)"><rect x="-25" y="-22" width="50" height="44"/><text y="12">80</text></g>
<g id="p100" transform="translate(545.5 501.7)"><rect x="-35" y="-22" width="70" height="44"/><text y="12">100</text></g>
<g id="p120" transform="translate(662.5 501.7)"><rect x="-35" y="-22" width="70" height="44"/><text y="12">120</text></g>
</g>
<g class="nd c0">
<g id="root" transform="translate(604 603)"><rect x="-18.5" y="-31" width="37" height="62"/><text y="17">1</text></g>
</g>
<g id="legend" class="nd">
<g id="lgS"><rect x="154" y="1272" width="44" height="63"/><text x="176" y="1318" style="font-size:52px">S</text></g>
<g id="lgP"><rect x="277" y="1282" width="31" height="44"/><text x="292.5" y="1315" style="font-size:33px">P</text></g>
<g id="lgC"><rect x="396" y="1286" width="28" height="37"/><text x="410" y="1313" style="font-size:27px">C</text></g>
<g id="lgM"><rect x="630" y="1289" width="26" height="30"/><text x="643" y="1311.5" style="font-size:22px">M</text></g>
<g id="lgV"><rect x="725" y="1289" width="69" height="30"/><text x="759.5" y="1311.5" style="font-size:22px">Valeur</text></g>
<g id="lgG"><rect x="912" y="1276" width="100" height="54" style="fill:#00ff00;stroke:none;rx:9px"/></g>
</g>
<text class="num" x="1012" y="1315">30975</text>
</svg>
